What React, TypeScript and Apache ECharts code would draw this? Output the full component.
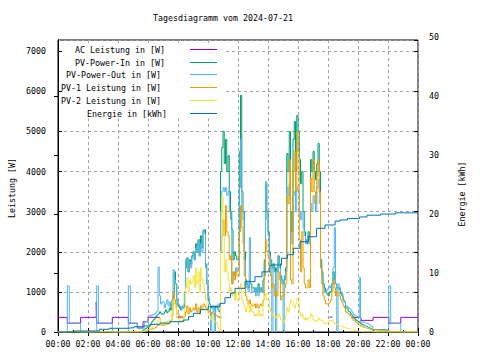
import React, { useEffect, useRef } from "react";
import * as echarts from "echarts";

const title = "Tagesdiagramm vom 2024-07-21";
const leftAxisName = "Leistung [W]";
const rightAxisName = "Energie [kWh]";
const legendNames = [
  "AC Leistung in [W]",
  "PV-Power-In in [W]",
  "PV-Power-Out in [W]",
  "PV-1 Leistung in [W]",
  "PV-2 Leistung in [W]",
  "Energie in [kWh]",
];
const colors = ["#9400d3", "#009e73", "#56b4e9", "#e69f00", "#f0e442", "#0072b2"];

// daytime readings: every 5 minutes from 05:30 to 21:00 (one row per hour)
const dayStartHour = 5.5;
const pvIn = [
  0, 20, 50, 70, 90, 110,
  120, 150, 200, 260, 300, 330, 380, 420, 450, 500, 470, 440,
  450, 500, 550, 480, 520, 600, 550, 700, 900, 1500, 1200, 800,
  650, 600, 550, 620, 600, 700, 1600, 1850, 1500, 1800, 1700, 1900,
  2000, 1800, 2200, 2000, 2300, 1900, 2400, 2100, 2500, 2550, 1700, 1200,
  800, 700, 600, 650, 600, 550, 650, 600, 550, 500, 4000, 4600,
  5000, 4200, 4800, 4000, 4400, 3500, 3000, 2550, 1800, 2000, 1900, 1800,
  1800, 4500, 5900, 3500, 3000, 2000, 1300, 1200, 1100, 1300, 1200, 1100,
  1100, 1000, 1100, 1000, 1200, 1000, 1100, 1000, 1300, 1800, 3700, 3000,
  2500, 2000, 1800, 1600, 1700, 1500, 1600, 1500, 1900, 1700, 1400, 1300,
  1200, 1400, 1600, 4450, 4000, 5000, 3000, 2500, 4800, 5250, 4000, 5400,
  5000, 4300, 3700, 4000, 3000, 2500, 2300, 2200, 2500, 2300, 4300, 4000,
  4500, 4000, 3800, 4200, 4700, 4000, 1800, 1500, 1200, 1100, 1000, 950,
  900, 1000, 1000, 1200, 1500, 1300, 1200, 1100, 1100, 1050, 950, 900,
  800, 750, 600, 600, 520, 500, 450, 420, 360, 330, 300, 280,
  260, 240, 210, 190, 170, 155, 140, 125, 110, 95, 80, 65,
  50,
];
const pvOut = [
  100, 100, 100, 250, 260, 260,
  400, 420, 400, 430, 420, 450, 480, 520, 1620, 900, 700, 750,
  750, 600, 700, 800, 650, 750, 600, 800, 1550, 1300, 1200, 700,
  700, 650, 600, 650, 600, 1000, 1800, 1850, 1500, 1750, 1600, 1850,
  1900, 1800, 2100, 2000, 2300, 1900, 2200, 2000, 2550, 2450, 1600, 1300,
  900, 700, 0, 500, 650, 0, 600, 650, 700, 600, 3000, 3500,
  3600, 3500, 3600, 3400, 3500, 3000, 2800, 1200, 1500, 1400, 1600, 1500,
  1600, 3600, 4800, 3000, 2800, 1800, 1200, 1100, 1000, 2350, 1200, 1000,
  1000, 1100, 900, 1100, 900, 1000, 1100, 1000, 1300, 1700, 3750, 2800,
  2400, 1900, 1700, 0, 1600, 1500, 0, 1500, 1800, 1600, 1300, 1200,
  0, 1300, 1500, 3600, 3400, 3700, 2500, 2200, 3400, 3500, 3000, 3600,
  3500, 3000, 2800, 3000, 2600, 2400, 2200, 2200, 2400, 2200, 3200, 3000,
  3400, 3200, 3000, 3600, 3800, 3200, 1600, 1400, 1100, 1000, 1000, 1050,
  1100, 1150, 1100, 1200, 1600, 2600, 1200, 0, 1200, 1100, 1000, 950,
  800, 750, 660, 640, 600, 580, 550, 500, 450, 420, 400, 380,
  350, 1360, 250, 240, 250, 230, 220, 210, 200, 180, 150, 130,
  0,
];
const pv1 = [
  0, 10, 20, 30, 40, 50,
  50, 60, 70, 80, 90, 100, 120, 150, 170, 180, 170, 160,
  160, 180, 190, 200, 210, 250, 260, 400, 1000, 800, 700, 450,
  450, 400, 380, 350, 360, 400, 500, 650, 450, 600, 500, 550,
  600, 550, 700, 500, 600, 450, 650, 550, 700, 650, 600, 550,
  550, 500, 450, 480, 450, 400, 420, 400, 380, 350, 2000, 2400,
  2800, 2400, 3150, 2500, 2400, 1800, 1900, 1200, 1500, 1300, 1500, 1400,
  1400, 2500, 3150, 2600, 2200, 1400, 900, 800, 700, 800, 700, 650,
  650, 700, 600, 700, 600, 650, 700, 650, 800, 1400, 2300, 2000,
  1900, 1500, 1400, 1100, 1200, 900, 1000, 900, 1500, 1300, 800, 900,
  900, 1100, 1200, 3400, 3200, 4300, 1300, 1200, 4000, 4500, 3500, 5000,
  4500, 2300, 1500, 2500, 1600, 1200, 1100, 1100, 1300, 1100, 3850, 3500,
  4300, 3500, 3200, 3900, 4270, 3500, 1600, 1200, 900, 800, 700, 700,
  700, 750, 800, 1000, 1300, 1100, 900, 1000, 1000, 900, 800, 750,
  650, 600, 500, 480, 450, 420, 400, 350, 300, 280, 250, 220,
  200, 180, 150, 140, 120, 110, 100, 90, 80, 70, 60, 55,
  50,
];
const pv2 = [
  0, 10, 20, 30, 40, 50,
  60, 80, 100, 100, 150, 180, 200, 220, 300, 350, 250, 200,
  200, 250, 220, 260, 300, 280, 300, 500, 800, 700, 600, 350,
  350, 250, 280, 300, 250, 600, 1100, 1350, 1000, 1300, 1200, 1250,
  1400, 1100, 1600, 1200, 1500, 1000, 1600, 1300, 1200, 1000, 800, 600,
  450, 400, 300, 350, 300, 250, 250, 200, 80, 50, 2000, 3400,
  2800, 1500, 1800, 1500, 1300, 1000, 1100, 900, 1000, 800, 1000, 800,
  800, 1100, 1200, 800, 700, 600, 500, 600, 700, 500, 650, 500,
  500, 400, 450, 400, 550, 400, 450, 400, 800, 900, 950, 800,
  800, 600, 500, 450, 400, 350, 400, 350, 450, 400, 300, 300,
  250, 300, 400, 600, 500, 700, 800, 750, 650, 600, 700, 850,
  850, 500, 400, 450, 350, 300, 350, 300, 350, 350, 450, 400,
  300, 280, 250, 300, 350, 300, 300, 280, 250, 220, 200, 230,
  250, 300, 280, 300, 250, 220, 200, 180, 150, 150, 150, 130,
  120, 110, 100, 90, 80, 70, 60, 55, 50, 40, 30, 25,
  20, 15, 10, 5, 0, 0, 0, 0, 0, 0, 0, 0,
  0,
];

// night readings [hour, W]
const pvOutBefore = [
  [0, 0], [0.62, 1150], [0.75, 220], [1.51, 0], [2.58, 1150], [2.69, 220], [3.62, 0],
  [4.69, 1150], [4.82, 220], [5.29, 100],
];
const pvOutAfter = [[22.05, 1150], [22.18, 215], [22.85, 0], [24, 0]];
const pv1After = [[21.5, 30], [22.0, 0], [24, 0]];
const zeroBefore = [[0, 0]];
const zeroAfter = [[22.0, 0], [24, 0]];

// AC power: visible segments only (null = hidden)
const acPower = [
  [0, 365], [0.62, 220], [1.51, 365], [2.55, 750], [2.58, 220], [3.62, 365], [4.69, 220],
  [5.29, 100], [5.67, 255], [6.0, 365], [6.8, 365], [6.81, null],
  [7.9, 370], [8.35, 370], [8.36, null],
  [10.7, 370], [10.9, 370], [10.91, null],
  [18.1, 370], [18.3, 370], [18.31, null],
  [19.55, 365], [20.2, 290], [21.0, 365], [22.05, 220], [22.85, 365], [24, 365],
];

// cumulative energy [hour, kWh]
const energy = [
  [0, 0], [0.6, 0.05], [1.07, 0.17], [2.75, 0.46], [3.4, 0.63], [4.6, 0.73], [5.07, 0.9],
  [5.67, 1.02], [6.13, 1.3], [6.8, 1.5], [7.47, 1.75], [8.35, 2.03], [8.7, 2.6], [9.02, 3.17],
  [9.5, 3.8], [10.02, 4.29], [10.8, 4.86], [11.13, 5.81], [11.5, 6.6], [11.8, 7.4],
  [12.47, 8.53], [13.13, 9.37], [13.6, 10.2], [14.13, 11.36], [14.9, 12.5], [15.3, 13.1],
  [15.69, 14.19], [16.13, 15.3], [16.69, 16.15], [17.24, 17.58], [17.8, 18.14],
  [18.47, 18.8], [18.8, 19.0], [19.3, 19.25], [20.1, 19.5], [20.6, 19.8], [21.5, 20.0],
  [22.5, 20.2], [24, 20.3],
];

const leftMax = 7280;
const rightMax = 49.5;

function dayPairs(vals: number[]) {
  return vals.map((v, i) => [dayStartHour + i / 12, v]);
}

const FONT = "DejaVu Sans Mono";
const fontStr = `8.3px "${FONT}"`;

export default function App() {
  const ref = useRef<HTMLDivElement>(null);
  useEffect(() => {
    document.body.style.margin = "0";
    if (!ref.current) return;
    const chart = echarts.init(ref.current, undefined, { renderer: "svg" });
    const mk = (name: string, idx: number, data: any[], yAxisIndex = 0) => ({
      name,
      type: "line",
      step: "end",
      data,
      xAxisIndex: 0,
      yAxisIndex,
      showSymbol: false,
      symbol: "none",
      connectNulls: false,
      silent: true,
      lineStyle: { color: colors[idx], width: 1 },
      itemStyle: { color: colors[idx] },
    });
    const legendY = [49.5, 62.5, 74.5, 87.5, 100.5, 113.5];
    const legendRight = [165, 165, 161, 161, 161, 167];
    const legendEls: any[] = [];
    legendNames.forEach((n, i) => {
      legendEls.push({
        type: "text",
        x: legendRight[i],
        y: legendY[i],
        z: 101,
        style: { text: n, font: fontStr, fill: "#000", align: "right", verticalAlign: "middle" },
      });
      legendEls.push({
        type: "line",
        z: 101,
        shape: { x1: 190, y1: legendY[i], x2: 217, y2: legendY[i] },
        style: { stroke: colors[i], lineWidth: 1 },
      });
    });
    const tickFmt = (v: number) => {
      const h = Math.round(v) % 24;
      return (h < 10 ? "0" : "") + h + ":00";
    };
    const labelStyle = { color: "#000", fontFamily: FONT, fontSize: 8.3 };
    const gridLine = { show: true, lineStyle: { color: "#a0a0a0", type: [3, 3], width: 1 } };
    chart.setOption({
      animation: false,
      backgroundColor: "#fff",
      grid: {
        left: 58,
        right: 62,
        top: 40,
        bottom: 28,
        show: true,
        borderColor: "#000",
        borderWidth: 1,
        containLabel: false,
      },
      xAxis: [
        {
          type: "value",
          min: 0,
          max: 24,
          interval: 2,
          position: "bottom",
          axisLine: { show: true, lineStyle: { color: "#000" } },
          axisTick: { show: true, inside: true, length: 4, lineStyle: { color: "#000" } },
          minorTick: { show: true, splitNumber: 2, length: 2, lineStyle: { color: "#000" } },
          axisLabel: { ...labelStyle, margin: 8, formatter: tickFmt },
          splitLine: gridLine,
        },
        {
          type: "value",
          min: 0,
          max: 24,
          interval: 2,
          position: "top",
          axisLine: { show: false },
          axisTick: { show: true, inside: true, length: 4, lineStyle: { color: "#000" } },
          axisLabel: { show: false },
          splitLine: { show: false },
        },
      ],
      yAxis: [
        {
          type: "value",
          min: 0,
          max: leftMax,
          interval: 1000,
          position: "left",
          axisLine: { show: true, lineStyle: { color: "#000" } },
          axisTick: { show: true, inside: true, length: 4, lineStyle: { color: "#000" } },
          axisLabel: { ...labelStyle, margin: 12, showMaxLabel: false, formatter: (v: number) => String(v) },
          splitLine: gridLine,
        },
        {
          type: "value",
          min: 0,
          max: rightMax,
          interval: 10,
          position: "right",
          axisLine: { show: true, lineStyle: { color: "#000" } },
          axisTick: { show: true, inside: true, length: 4, lineStyle: { color: "#000" } },
          axisLabel: { ...labelStyle, margin: 11, showMaxLabel: false, formatter: (v: number) => String(v) },
          splitLine: { show: false },
        },
        {
          type: "value",
          min: 0,
          max: leftMax,
          interval: 1000,
          position: "right",
          axisLine: { show: false },
          axisTick: { show: true, inside: true, length: 4, lineStyle: { color: "#000" } },
          axisLabel: { show: false },
          splitLine: { show: false },
        },
      ],
      series: [
        mk(legendNames[0], 0, acPower),
        mk(legendNames[1], 1, [...zeroBefore, ...dayPairs(pvIn), ...zeroAfter]),
        mk(legendNames[2], 2, [...pvOutBefore, ...dayPairs(pvOut), ...pvOutAfter]),
        mk(legendNames[3], 3, [...zeroBefore, ...dayPairs(pv1), ...pv1After]),
        mk(legendNames[4], 4, [...zeroBefore, ...dayPairs(pv2), ...zeroAfter]),
        mk(legendNames[5], 5, energy, 1),
      ],
      graphic: [
        {
          type: "text",
          x: 223,
          y: 18,
          style: { text: title, font: fontStr, fill: "#000", align: "center", verticalAlign: "middle" },
        },
        {
          type: "text",
          x: 12,
          y: 188,
          rotation: Math.PI / 2,
          style: { text: leftAxisName, font: fontStr, fill: "#000", align: "center", verticalAlign: "middle" },
        },
        {
          type: "text",
          x: 462,
          y: 194,
          rotation: Math.PI / 2,
          style: { text: rightAxisName, font: fontStr, fill: "#000", align: "center", verticalAlign: "middle" },
        },
        {
          type: "text",
          x: 429,
          y: 37,
          style: { text: "50", font: fontStr, fill: "#000", align: "left", verticalAlign: "middle" },
        },
        {
          type: "rect",
          z: 100,
          shape: { x: 62.5, y: 44.5, width: 162, height: 74 },
          style: { fill: "#fff" },
        },
        ...legendEls,
      ],
    });
    return () => chart.dispose();
  }, []);
  return <div ref={ref} style={{ width: 480, height: 360 }} />;
}
